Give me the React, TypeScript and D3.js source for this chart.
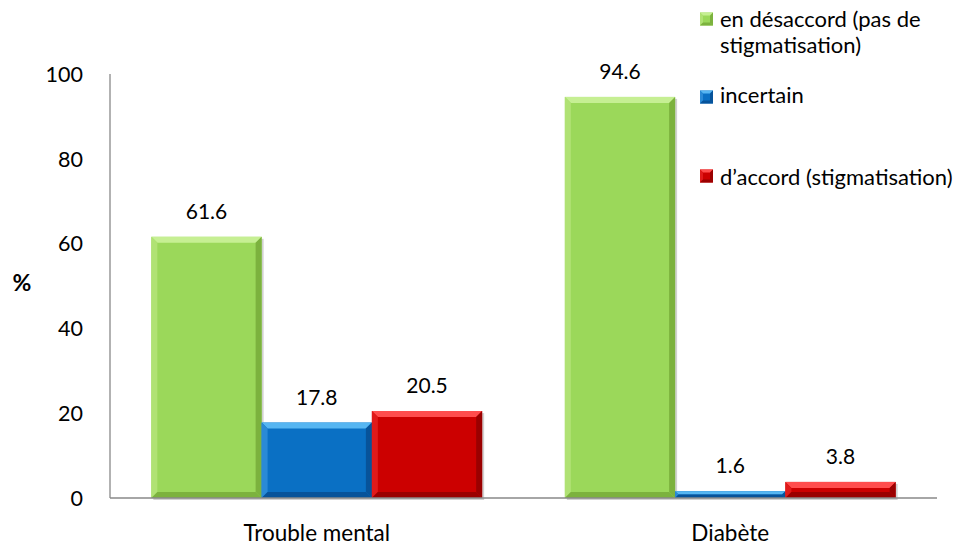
import React from 'react';
import * as d3 from 'd3';

const categories = ['Trouble mental', 'Diabète'];
const seriesNames = ['en désaccord (pas de stigmatisation)', 'incertain', 'd’accord (stigmatisation)'];
const disagree = [61.6, 94.6];
const uncertain = [17.8, 1.6];
const agree = [20.5, 3.8];
const yTicks = [0, 20, 40, 60, 80, 100];

const W = 963;
const H = 548;
const margin = { left: 110, right: 26, top: 74, bottom: 50 };
const font = "Lato, 'Open Sans', sans-serif";

const palette = [
  { main: '#9bd85a', light: '#c6ef93', side: '#b0e274', dark: '#7cb23e' },
  { main: '#0a70c4', light: '#56b6f2', side: '#2a8ad6', dark: '#07539a' },
  { main: '#cc0000', light: '#ff4d4d', side: '#e01a1a', dark: '#9a0000' },
];

// legend: text baselines and marker centres
const legendItems = [
  { i: 0, lines: ['en désaccord (pas de', 'stigmatisation)'], base: [27, 53], mark: 19 },
  { i: 1, lines: ['incertain'], base: [103], mark: 97 },
  { i: 2, lines: ['d’accord (stigmatisation)'], base: [185], mark: 176 },
];

function BevelBar({ x, y, w, h, c, bev = 6, shadow = true }: any) {
  const b = Math.min(bev, h / 2, w / 2);
  const x2 = x + w;
  const y2 = y + h;
  const pts = (p: number[][]) => p.map((q) => q.join(',')).join(' ');
  return (
    <g>
      {shadow && <rect x={x + 2} y={y + 2} width={w} height={h} fill="#000" opacity={0.18} />}
      <rect x={x} y={y} width={w} height={h} fill={c.main} />
      <polygon points={pts([[x, y], [x2, y], [x2 - b, y + b], [x + b, y + b]])} fill={c.light} />
      <polygon points={pts([[x, y], [x + b, y + b], [x + b, y2 - b], [x, y2]])} fill={c.side} />
      <polygon points={pts([[x2, y], [x2, y2], [x2 - b, y2 - b], [x2 - b, y + b]])} fill={c.dark} />
      <polygon points={pts([[x, y2], [x + b, y2 - b], [x2 - b, y2 - b], [x2, y2]])} fill={c.dark} />
    </g>
  );
}

export default function App() {
  const series = [disagree, uncertain, agree];
  const x0 = d3.scaleBand<string>().domain(categories).range([margin.left, W - margin.right]).paddingInner(0.2).paddingOuter(0.1);
  const x1 = d3.scaleBand<number>().domain([0, 1, 2]).range([0, x0.bandwidth()]).padding(0);
  const y = d3.scaleLinear().domain([0, 100]).range([H - margin.bottom, margin.top]);
  const baseY = y(0);

  return (
    <svg width={W} height={H} style={{ position: 'absolute', left: 0, top: 0 }} fontFamily={font}>
      {/* bars */}
      {categories.map((cat, ci) =>
        series.map((vals, si) => {
          const bx = (x0(cat) ?? 0) + (x1(si) ?? 0);
          const by = y(vals[ci]);
          return (
            <g key={`${ci}-${si}`}>
              <BevelBar x={bx} y={by} w={x1.bandwidth()} h={baseY - by} c={palette[si]} />
              <text x={bx + x1.bandwidth() / 2} y={by - 18} textAnchor="middle" fontSize={21} fill="#000">
                {d3.format('.1f')(vals[ci])}
              </text>
            </g>
          );
        })
      )}
      {/* axes */}
      <line x1={margin.left} x2={margin.left} y1={y(100)} y2={baseY} stroke="#898989" strokeWidth={1.3} />
      <line x1={margin.left} x2={W - margin.right} y1={baseY} y2={baseY} stroke="#898989" strokeWidth={1.3} />
      {yTicks.map((t) => (
        <text key={t} x={83} y={y(t)} dy="0.36em" textAnchor="end" fontSize={21.5} fill="#000">
          {t}
        </text>
      ))}
      <text x={22} y={283} dy="0.36em" textAnchor="middle" fontSize={23} fontWeight="bold" fill="#000">
        %
      </text>
      {categories.map((cat) => (
        <text key={cat} x={(x0(cat) ?? 0) + x0.bandwidth() / 2} y={541} textAnchor="middle" fontSize={22.5} fill="#000">
          {cat}
        </text>
      ))}
      {/* legend */}
      {legendItems.map((l) => (
        <g key={l.i}>
          <BevelBar x={700} y={l.mark - 6.5} w={13} h={13} c={palette[l.i]} bev={3} shadow={false} />
          {l.lines.map((s, k) => (
            <text key={k} x={720} y={l.base[k]} fontSize={22} fill="#000">
              {s}
            </text>
          ))}
        </g>
      ))}
      <title>{seriesNames.join(', ')}</title>
    </svg>
  );
}
